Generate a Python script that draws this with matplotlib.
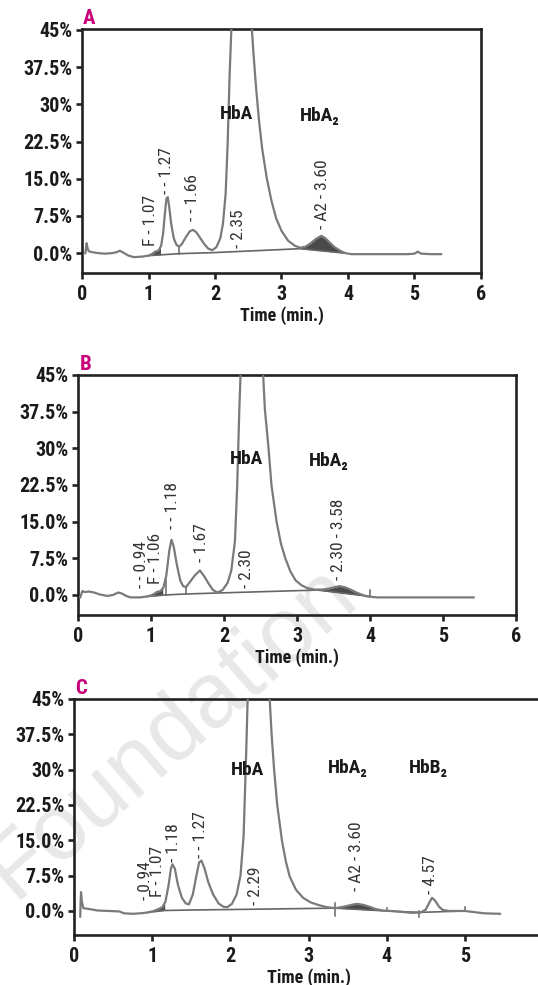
import matplotlib
matplotlib.use("Agg")
import matplotlib.pyplot as plt
from matplotlib import font_manager as fm
import numpy as np

def pick(names):
    for n in names:
        try:
            fm.findfont(fm.FontProperties(family=n), fallback_to_default=False)
            return n
        except Exception:
            pass
    return "DejaVu Sans"

COND = pick(["Liberation Sans Narrow", "Roboto Condensed", "DejaVu Sans"])
REG = pick(["Liberation Sans", "Arial", "DejaVu Sans"])
FAM = [COND, "DejaVu Sans"]

# ---------------- data ----------------
y_ticks = [0.0, 7.5, 15.0, 22.5, 30.0, 37.5, 45.0]
y_tick_labels = ["0.0%", "7.5%", "15.0%", "22.5%", "30%", "37.5%", "45%"]
x_ticks = [0, 1, 2, 3, 4, 5, 6]
x_label = "Time (min.)"

# Panel A chromatogram
tA = [0.05, 0.07, 0.08, 0.10, 0.15, 0.25, 0.35, 0.45, 0.52, 0.57, 0.62, 0.70, 0.78, 0.90,
      1.00, 1.05, 1.10, 1.15, 1.19, 1.22, 1.25, 1.27, 1.29, 1.31, 1.34, 1.38, 1.42, 1.46,
      1.50, 1.56, 1.62, 1.67, 1.72, 1.78, 1.84, 1.90, 1.96, 2.02, 2.08, 2.12, 2.16, 2.19,
      2.22, 2.26, 2.32, 2.40, 2.48, 2.54, 2.58, 2.62, 2.66, 2.71, 2.78, 2.85, 2.92, 3.00,
      3.10, 3.20, 3.28, 3.36, 3.44, 3.52, 3.60, 3.66, 3.72, 3.80, 3.88, 3.96, 4.05, 4.30,
      4.60, 4.90, 5.00, 5.05, 5.10, 5.25, 5.40]
yA = [0.0, 2.0, 1.2, 0.4, 0.2, 0.0, -0.1, 0.0, 0.2, 0.5, 0.1, -0.5, -0.8, -0.7,
      -0.5, -0.2, 0.3, 0.5, 1.5, 4.0, 8.5, 11.0, 11.3, 9.5, 6.0, 3.0, 1.7, 1.3,
      1.8, 3.2, 4.4, 4.7, 4.2, 3.0, 1.8, 0.9, 0.6, 1.2, 3.0, 6.0, 12.0, 22.0,
      36.0, 50.0, 62.0, 66.0, 62.0, 48.0, 40.0, 33.0, 27.0, 21.0, 15.0, 10.5, 7.0, 4.5,
      2.5, 1.5, 1.1, 1.3, 2.0, 2.9, 3.5, 3.0, 2.2, 1.2, 0.5, 0.0, -0.2, -0.2,
      -0.2, -0.2, -0.1, 0.3, -0.1, -0.2, -0.2]
baseA_t = [1.00, 1.46, 1.96, 3.28, 3.96]
baseA_y = [-0.5, -0.1, 0.1, 0.9, 0.0]
dropsA = [(1.46, -0.1, 1.3)]
fillsA = [(1.02, 1.18), (3.28, 3.96)]
peaksA = ["F - 1.07", "- - 1.27", "- - 1.66", "- 2.35", "- A2 - 3.60"]
peaksA_x = [1.03, 1.27, 1.66, 2.35, 3.61]
peaksA_y = [1.5, 12.0, 6.5, 1.0, 4.8]
namesA = ["HbA", "HbA\u2082"]
namesA_x = [2.32, 3.58]
namesA_y = [28.0, 27.7]

# Panel B chromatogram
tB = [0.03, 0.06, 0.09, 0.15, 0.22, 0.30, 0.40, 0.48, 0.55, 0.60, 0.66, 0.72, 0.85, 0.95,
      1.02, 1.08, 1.13, 1.17, 1.21, 1.25, 1.28, 1.31, 1.35, 1.40, 1.44, 1.48, 1.54, 1.60,
      1.67, 1.73, 1.79, 1.85, 1.91, 1.98, 2.05, 2.10, 2.15, 2.18, 2.21, 2.25, 2.32, 2.40,
      2.48, 2.53, 2.56, 2.61, 2.65, 2.72, 2.78, 2.84, 2.91, 2.98, 3.06, 3.14, 3.24, 3.34,
      3.44, 3.52, 3.58, 3.65, 3.72, 3.80, 3.88, 3.96, 4.10, 4.50, 5.00, 5.42]
yB = [-0.5, 0.8, 0.6, 0.7, 0.5, 0.1, -0.2, 0.0, 0.5, 0.3, -0.2, -0.5, -0.5, -0.3,
      0.0, 0.6, 0.8, 1.5, 4.0, 9.0, 11.3, 10.0, 6.5, 3.0, 1.8, 1.6, 2.8, 4.0,
      5.0, 3.8, 2.3, 1.0, 0.5, 1.0, 2.5, 5.0, 11.0, 22.0, 38.0, 55.0, 65.0, 68.0,
      60.0, 47.0, 38.0, 30.0, 22.5, 15.0, 10.5, 7.5, 4.8, 3.0, 2.0, 1.4, 1.1, 1.1,
      1.3, 1.6, 1.8, 1.6, 1.2, 0.6, 0.1, -0.3, -0.5, -0.5, -0.5, -0.5]
baseB_t = [0.95, 1.20, 1.48, 1.91, 3.28, 4.00]
baseB_y = [-0.3, 0.0, 0.2, 0.4, 1.0, -0.3]
dropsB = [(1.20, 0.0, 3.0), (1.48, 0.2, 1.6), (4.00, -0.3, 1.0)]
fillsB = [(1.02, 1.16), (3.30, 3.92)]
peaksB = ["- - 0.94", "F - 1.06", "- - 1.18", "- 1.67", "- 2.30", "- 2.30 - 3.58"]
peaksB_x = [0.87, 1.06, 1.29, 1.69, 2.31, 3.57]
peaksB_y = [1.5, 2.3, 13.5, 6.8, 1.5, 3.0]
namesB = ["HbA", "HbA\u2082"]
namesB_x = [2.31, 3.43]
namesB_y = [27.9, 27.5]

# Panel C chromatogram
tC = [0.080, 0.085, 0.090, 0.100, 0.12, 0.20, 0.30, 0.45, 0.58, 0.64, 0.75, 0.85, 0.95,
      1.02, 1.08, 1.13, 1.17, 1.21, 1.24, 1.26, 1.29, 1.33, 1.38, 1.43, 1.47, 1.52, 1.56,
      1.60, 1.63, 1.67, 1.72, 1.78, 1.85, 1.91, 1.96, 2.02, 2.08, 2.13, 2.17, 2.20, 2.23,
      2.30, 2.38, 2.45, 2.50, 2.53, 2.56, 2.60, 2.66, 2.71, 2.76, 2.84, 2.93, 3.03, 3.14,
      3.24, 3.34, 3.42, 3.50, 3.58, 3.63, 3.70, 3.78, 3.86, 3.95, 4.05, 4.20, 4.32, 4.44,
      4.50, 4.54, 4.58, 4.62, 4.67, 4.72, 4.80, 5.00, 5.10, 5.25, 5.45]
yC = [-1.2, 2.0, 4.0, 2.0, 0.6, 0.4, 0.1, 0.0, -0.1, -0.5, -0.6, -0.5, -0.3,
      0.0, 0.4, 0.8, 2.0, 5.5, 9.0, 9.9, 9.0, 5.5, 2.8, 1.6, 1.4, 3.5, 7.0,
      10.3, 10.7, 9.0, 6.0, 3.5, 1.6, 0.9, 0.8, 1.5, 3.5, 7.5, 16.0, 32.0, 50.0,
      64.0, 68.0, 60.0, 46.0, 37.0, 30.0, 22.5, 15.0, 10.5, 7.3, 4.5, 2.8, 1.8, 1.2,
      0.8, 0.6, 0.8, 1.1, 1.4, 1.5, 1.3, 0.9, 0.4, 0.1, 0.0, -0.2, -0.4, -0.3,
      0.3, 1.6, 2.8, 2.2, 0.9, 0.2, 0.0, 0.0, -0.2, -0.5, -0.6]
baseC_t = [0.95, 1.15, 1.47, 1.96, 3.34, 4.00, 4.42, 5.00]
baseC_y = [-0.3, 0.1, 0.2, 0.3, 0.6, 0.0, -0.3, 0.0]
dropsC = [(3.34, -1.0, 1.6), (4.00, 0.0, 0.6), (4.42, -1.3, 0.0), (5.00, 0.0, 0.9)]
fillsC = [(1.02, 1.16), (3.36, 3.95)]
peaksC = ["- 0.94", "F - 1.07", "- 1.18", "- - 1.27", "- 2.29", "- A2 - 3.60", "- 4.57"]
peaksC_x = [0.91, 1.07, 1.27, 1.62, 2.32, 3.61, 4.56]
peaksC_y = [2.4, 3.0, 10.3, 11.2, 1.3, 4.2, 3.5]
namesC = ["HbA", "HbA\u2082", "HbB\u2082"]
namesC_x = [2.22, 3.50, 4.54]
namesC_y = [30.0, 30.3, 30.3]

panels = [
    dict(letter="A", t=tA, y=yA, bt=baseA_t, by=baseA_y, drops=dropsA, fills=fillsA,
         pk=peaksA, pkx=peaksA_x, pky=peaksA_y, nm=namesA, nmx=namesA_x, nmy=namesA_y,
         pos=[82/538, 1-273/985, 399/538, 244/985], ylim=(-4.0, 45.2)),
    dict(letter="B", t=tB, y=yB, bt=baseB_t, by=baseB_y, drops=dropsB, fills=fillsB,
         pk=peaksB, pkx=peaksB_x, pky=peaksB_y, nm=namesB, nmx=namesB_x, nmy=namesB_y,
         pos=[78/538, 1-615/985, 438/538, 240/985], ylim=(-4.1, 45.0)),
    dict(letter="C", t=tC, y=yC, bt=baseC_t, by=baseC_y, drops=dropsC, fills=fillsC,
         pk=peaksC, pkx=peaksC_x, pky=peaksC_y, nm=namesC, nmx=namesC_x, nmy=namesC_y,
         pos=[74/538, 1-935/985, 469/538, 236/985], ylim=(-5.1, 45.0)),
]

fig = plt.figure(figsize=(5.38, 9.85), dpi=100)
fig.patch.set_facecolor("white")

# watermark (light, diagonal)
wm_x, wm_y = 14/538, 1-900/985
fig.text(wm_x, wm_y, "Foundation", rotation=41, rotation_mode="anchor",
         ha="left", va="baseline", fontsize=66, color="#e8e8e8", family=REG, zorder=-5)
fig.text(wm_x, wm_y, "Storti ", rotation=41, rotation_mode="anchor",
         ha="right", va="baseline", fontsize=66, color="#e8e8e8", family=REG, zorder=-5)

for p in panels:
    ax = fig.add_axes(p["pos"])
    ax.set_facecolor("none")
    ax.set_xlim(0, 6)
    ax.set_ylim(*p["ylim"])
    t = np.array(p["t"]); y = np.array(p["y"])
    bt = np.array(p["bt"]); by = np.array(p["by"])
    for (a, b) in p["fills"]:
        tt = np.linspace(a, b, 80)
        yy = np.interp(tt, t, y)
        bb = np.interp(tt, bt, by)
        ax.fill_between(tt, bb, np.maximum(yy, bb), color="#4a4a4a", lw=0, zorder=2)
    ax.plot(bt, by, color="#666666", lw=1.2, zorder=3)
    for (x0, ya, yb) in p["drops"]:
        ax.plot([x0, x0], [ya, yb], color="#666666", lw=1.1, zorder=3)
    ax.plot(t, y, color="#7a7a7a", lw=1.6, zorder=4, solid_joinstyle="round")
    for s, x0, y0 in zip(p["pk"], p["pkx"], p["pky"]):
        ax.text(x0, y0, s, rotation=90, ha="center", va="bottom", fontsize=12.5,
                color="#333333", family=FAM, zorder=5)
    for s, x0, y0 in zip(p["nm"], p["nmx"], p["nmy"]):
        ax.text(x0, y0, s, ha="center", va="center", fontsize=14, fontweight="bold",
                color="#1a1a1a", family=FAM, zorder=5)
    for side in ["top", "bottom", "left", "right"]:
        ax.spines[side].set_linewidth(1.9)
        ax.spines[side].set_color("#222222")
    ax.set_yticks(y_ticks)
    ax.set_yticklabels(y_tick_labels)
    ax.set_xticks(x_ticks)
    ax.set_xticklabels([str(v) for v in x_ticks])
    ax.tick_params(axis="both", direction="out", length=4, width=1.9, color="#222222",
                   labelsize=14.5, labelcolor="#1a1a1a")
    ax.tick_params(axis="x", pad=5)
    ax.tick_params(axis="y", pad=3)
    for lab in ax.get_xticklabels() + ax.get_yticklabels():
        lab.set_fontweight("bold"); lab.set_family(FAM)
    ax.set_xlabel(x_label, fontsize=13, fontweight="bold", family=FAM, color="#1a1a1a",
                  labelpad=1)
    ax.text(0.003, 1.004, p["letter"], transform=ax.transAxes, ha="left", va="bottom",
            fontsize=15, fontweight="bold", color="#c8007a", family=FAM)

fig.savefig("out.png", dpi=100, facecolor="white")
